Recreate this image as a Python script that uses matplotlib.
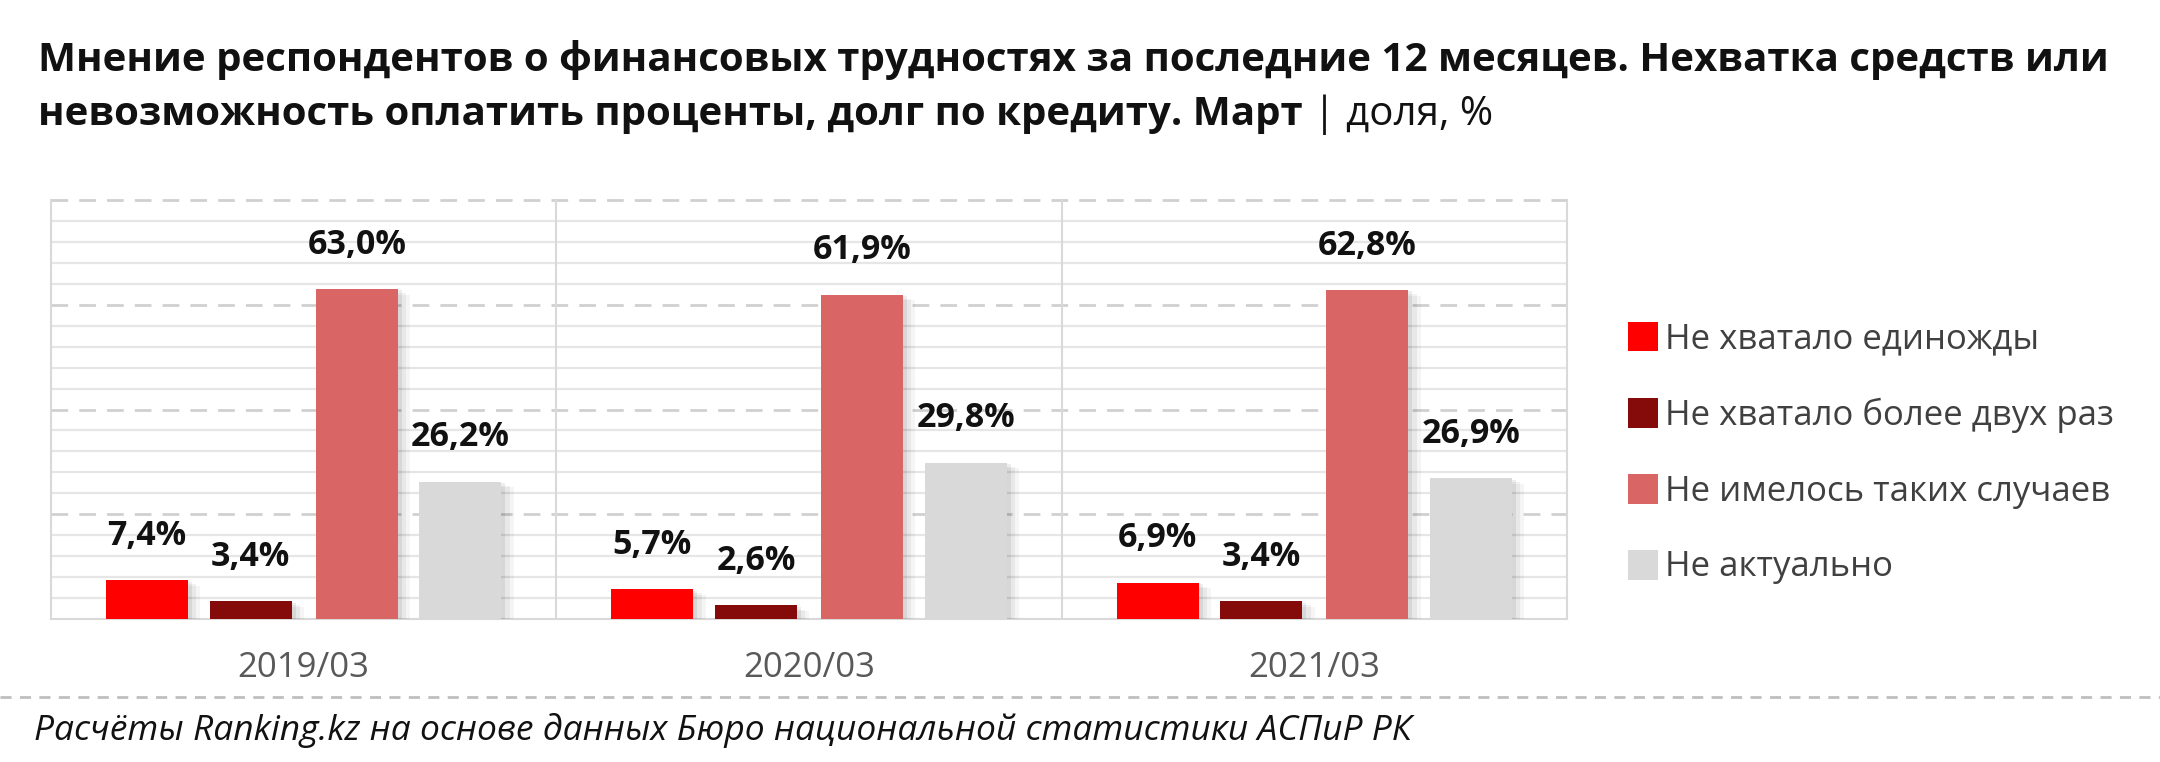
import matplotlib
matplotlib.use("Agg")
import matplotlib.pyplot as plt
import matplotlib.patheffects as pe
from matplotlib.patches import Patch
from matplotlib.lines import Line2D
import numpy as np

plt.rcParams['font.family'] = ['Open Sans', 'DejaVu Sans']

# данные
periods = ["2019/03", "2020/03", "2021/03"]
series_names = ["Не хватало единожды", "Не хватало более двух раз",
                "Не имелось таких случаев", "Не актуально"]
once = [7.4, 5.7, 6.9]
more_twice = [3.4, 2.6, 3.4]
no_cases = [63.0, 61.9, 62.8]
not_relevant = [26.2, 29.8, 26.9]
colors = ["#ff0000", "#850b0b", "#da6565", "#d9d9d9"]

fig = plt.figure(figsize=(21.6, 7.62), dpi=100)
ax = fig.add_axes([51/2160, 1-619/762, (1567-51)/2160, (619-200)/762])

x = np.arange(len(periods))
offsets = [-0.31, -0.105, 0.105, 0.31]
width = 0.162
shadow = [pe.SimplePatchShadow(offset=(9, -4), shadow_rgbFace="#000000", alpha=0.04),
          pe.SimplePatchShadow(offset=(6, -3), shadow_rgbFace="#000000", alpha=0.05),
          pe.SimplePatchShadow(offset=(3, -1), shadow_rgbFace="#000000", alpha=0.07),
          pe.Normal()]

for vals, off, c, name in zip([once, more_twice, no_cases, not_relevant], offsets, colors, series_names):
    bars = ax.bar(x + off, vals, width, color=c, label=name, zorder=3)
    for b in bars:
        b.set_path_effects(shadow)
    for xi, v in zip(x + off, vals):
        ax.annotate(f"{v:.1f}%".replace(".", ","), xy=(xi, v), xytext=(0, 32),
                    textcoords="offset points", ha="center", va="center",
                    fontsize=24.5, fontweight="bold", color="#111111", zorder=4)

ax.set_xlim(-0.5, 2.5)
ax.set_ylim(0, 80)

# сетка
for y in range(4, 80, 4):
    if y % 20 == 0:
        ax.axhline(y, color="#d0d0d0", lw=2, ls=(0, (6, 4)), zorder=1)
    else:
        ax.axhline(y, color="#e6e6e6", lw=1.6, zorder=1)
ax.axhline(80, color="#d0d0d0", lw=2, ls=(0, (6, 4)), zorder=1, clip_on=False)
for xv in [0.5, 1.5]:
    ax.axvline(xv, color="#d9d9d9", lw=1.5, zorder=1)

for s in ["left", "right", "bottom"]:
    ax.spines[s].set_color("#d9d9d9")
    ax.spines[s].set_linewidth(1.5)
ax.spines["top"].set_visible(False)

ax.set_yticks([])
ax.set_xticks(x)
ax.set_xticklabels(periods, fontsize=25, color="#595959")
ax.tick_params(axis="x", length=0, pad=23)

# легенда
handles = [Patch(facecolor=c) for c in colors]
fig.legend(handles, series_names, loc="center left", bbox_to_anchor=(1597/2160, 1-453/762),
           frameon=False, fontsize=25, handlelength=0.86, handleheight=0.95,
           handletextpad=0.2, labelspacing=1.18, labelcolor="#404040")

# заголовок
fig.text(38/2160, 1-60/762,
         "Мнение респондентов о финансовых трудностях за последние 12 месяцев. Нехватка средств или",
         fontsize=29, fontweight="bold", va="center", ha="left", color="#111111")
t2 = fig.text(38/2160, 1-115/762,
              "невозможность оплатить проценты, долг по кредиту. Март",
              fontsize=29, fontweight="bold", va="center", ha="left", color="#111111")
ax.annotate(" | доля, %", xy=(1, 0.5), xycoords=t2, fontsize=29, va="center", ha="left",
            color="#111111", annotation_clip=False)

# подвал
fig.add_artist(Line2D([0, 1], [1-697/762, 1-697/762], transform=fig.transFigure,
                      color="#bfbfbf", lw=2, ls=(0, (4, 3))))
fig.text(34/2160, 1-730/762,
         "Расчёты Ranking.kz на основе данных Бюро национальной статистики АСПиР РК",
         fontsize=25.5, style="italic", va="center", ha="left", color="#111111")

fig.savefig("out.png", dpi=100)
